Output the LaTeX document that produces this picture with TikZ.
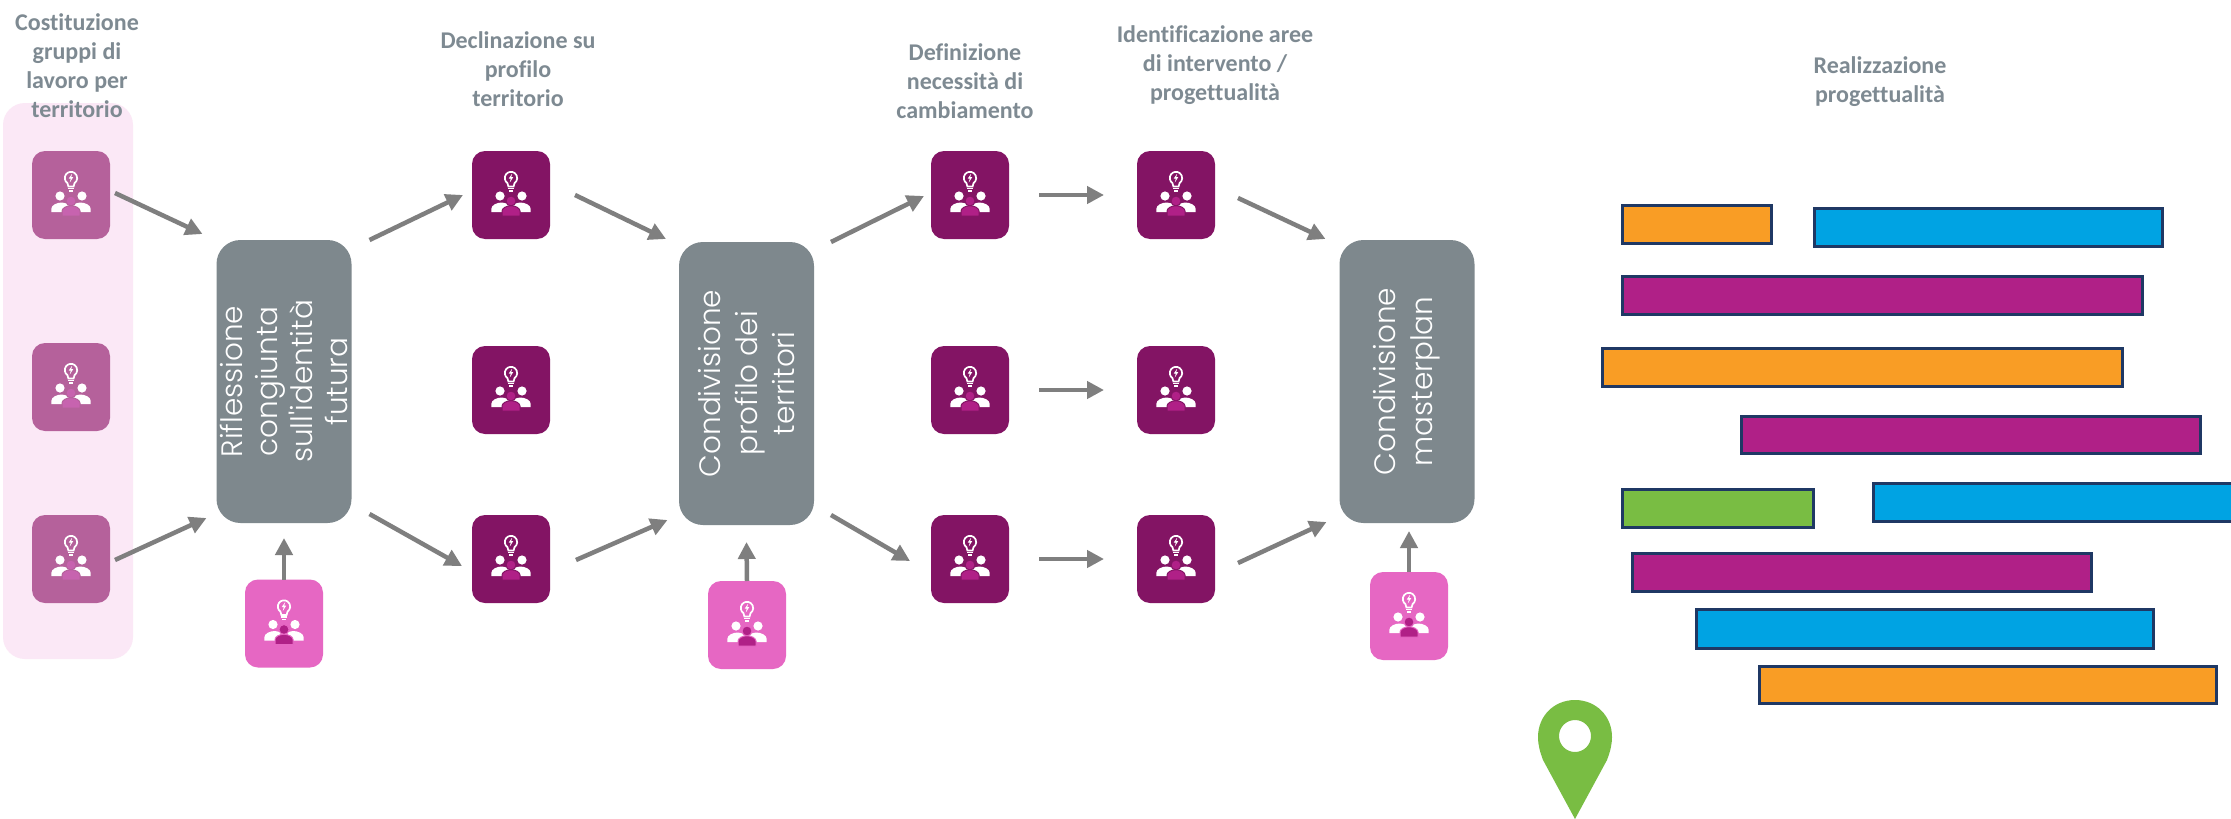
\documentclass[tikz,border=0pt]{standalone}
\usepackage{fontspec}
\setmainfont[Ligatures=NoCommon]{Carlito}
\newfontfamily\thinfont{Poppins Light}
\usetikzlibrary{calc,arrows.meta}
\definecolor{headc}{HTML}{7E8A92}
\definecolor{greyc}{HTML}{7E888D}
\definecolor{arrc}{HTML}{7F7F7F}
\definecolor{bandc}{HTML}{FBE8F6}
\definecolor{softc}{HTML}{B5619B}
\definecolor{softa}{HTML}{C763AF}
\definecolor{darkc}{HTML}{831464}
\definecolor{darka}{HTML}{B02087}
\definecolor{pinkc}{HTML}{E667C3}
\definecolor{pinka}{HTML}{B02087}
\definecolor{orangec}{HTML}{F99D25}
\definecolor{bluec}{HTML}{00A3E3}
\definecolor{purplec}{HTML}{B02087}
\definecolor{greenc}{HTML}{79BD43}
\definecolor{barline}{HTML}{1F3864}
\tikzset{
 head/.style={font=\bfseries\fontsize{24}{28.8}\selectfont,text=headc,align=center,inner sep=0,outer sep=0},
 icon/.style={minimum width=78pt,minimum height=88pt,rounded corners=13pt,inner sep=0,outer sep=0},
 softbox/.style={icon,fill=softc},
 darkbox/.style={icon,fill=darkc},
 pinkbox/.style={icon,fill=pinkc},
 greybox/.style={fill=greyc,minimum width=135pt,minimum height=283pt,rounded corners=24pt,inner sep=0,outer sep=0},
 boxtext/.style={rotate=90,text=white,font=\thinfont\fontsize{29.5}{37}\selectfont,align=center},
 arr/.style={draw=arrc,line width=4.5pt,-{Triangle[length=17pt,width=17pt]}},
 barbox/.style={draw=barline,line width=3pt},
 pics/team/.style 2 args={code={
  % bulb
  \draw[white,line width=1.7pt,fill=#1] (-2.6,-8.5) -- (-3.56,-11.9) arc[start angle=125,end angle=415,radius=6.2] -- (2.6,-8.5) -- cycle;
  \fill[white] (1.2,-21.5) -- (-2.2,-16.5) -- (-0.2,-16.5) -- (-1.2,-12.5) -- (2.2,-17.8) -- (0.2,-17.8) -- cycle;
  \fill[white] (-3,-7.1) rectangle (3,-5.9);
  \fill[white] (-2,-4.6) rectangle (2,-3.4);
  % side persons
  \fill[white] (-11,1) circle[radius=4.6];
  \fill[white] (11,1) circle[radius=4.6];
  \fill[white] (-19.7,17) -- (-19.7,14) .. controls (-19.7,10) and (-14,7.5) .. (-9,7.5) -- (-2,9) -- (-2,17) -- cycle;
  \fill[white] (19.7,17) -- (19.7,14) .. controls (19.7,10) and (14,7.5) .. (9,7.5) -- (2,9) -- (2,17) -- cycle;
  % centre person
  \draw[#1,line width=1pt,fill=#2] (0,6) circle[radius=5];
  \draw[#1,line width=1pt,fill=#2] (-9,21) -- (-9,16) .. controls (-9,13) and (-4,10.7) .. (0,10.7) .. controls (4,10.7) and (9,13) .. (9,16) -- (9,21) -- cycle;
 }}
}
\begin{document}
\begin{tikzpicture}[x=1pt,y=-1pt]
\useasboundingbox (0,0) rectangle (2231,819);
\fill[white] (0,0) rectangle (2231,819);
\node[fill=bandc,rounded corners=22pt,minimum width=130pt,minimum height=556pt,inner sep=0] (band) at (68,381) {};
% headings
\node[head] (h1) at (77,65.5) {Costituzione\\gruppi di\\lavoro per\\territorio};
\node[head] (h2) at (518,69) {Declinazione su\\profilo\\territorio};
\node[head] (h3) at (965,81) {Definizione\\necessità di\\cambiamento};
\node[head] (h4) at (1215,65) {Identificazione aree\\di intervento /\\progettualità};
\node[head] (h5) at (1880,82) {Realizzazione\\progettualità};
% grey boxes
\node[greybox] (g1) at (284,381.5) {};
\node[boxtext] (g1t) at (g1.center) {Riflessione\\[-2pt]congiunta\\[-2pt]sull'identità\\[-2pt]futura};
\node[greybox] (g2) at (746.5,383.5) {};
\node[boxtext] (g2t) at (g2.center) {Condivisione\\profilo dei\\territori};
\node[greybox] (g3) at (1407,381.5) {};
\node[boxtext] (g3t) at (g3.center) {Condivisione\\masterplan};
% icons
\foreach \n/\x/\y/\s/\a/\b in {
 a1/71/195/softbox/softc/softa,a2/71/387/softbox/softc/softa,a3/71/559/softbox/softc/softa,
 b1/511/195/darkbox/darkc/darka,b2/511/390/darkbox/darkc/darka,b3/511/559/darkbox/darkc/darka,
 c1/970/195/darkbox/darkc/darka,c2/970/390/darkbox/darkc/darka,c3/970/559/darkbox/darkc/darka,
 d1/1176/195/darkbox/darkc/darka,d2/1176/390/darkbox/darkc/darka,d3/1176/559/darkbox/darkc/darka,
 p1/284/623.5/pinkbox/pinkc/pinka,p2/747/625/pinkbox/pinkc/pinka,p3/1409/616/pinkbox/pinkc/pinka}{
 \node[\s] (\n) at (\x,\y) {};
 \pic at (\n.center) {team={\a}{\b}};
}
% arrows
\draw[arr] ([shift={(5,-2)}]a1.east) -- ([shift={(-14,-6)}]g1.north west);
\draw[arr] ([shift={(5,1)}]a3.east) -- ([shift={(-10,-5)}]g1.south west);
\draw[arr] (p1.north) -- ([shift={(0,15)}]g1.south);
\draw[arr] ([shift={(18,0)}]g1.north east) -- ([shift={(-9,0)}]b1.west);
\draw[arr] ([shift={(18,-9)}]g1.south east) -- ([shift={(-10,7)}]b3.west);
\draw[arr] ([shift={(25,0)}]b1.east) -- ([shift={(-13,-3)}]g2.north west);
\draw[arr] ([shift={(26,1)}]b3.east) -- ([shift={(-11.5,-5)}]g2.south west);
\draw[arr] (p2.north) -- ([shift={(0,17)}]g2.south);
\draw[arr] ([shift={(17,0)}]g2.north east) -- ([shift={(-7,1)}]c1.west);
\draw[arr] ([shift={(17,-10)}]g2.south east) -- ([shift={(-21,2)}]c3.west);
\draw[arr] ([shift={(30,0)}]c1.east) -- ([shift={(-33,0)}]d1.west);
\draw[arr] ([shift={(30,0)}]c2.east) -- ([shift={(-33,0)}]d2.west);
\draw[arr] ([shift={(30,0)}]c3.east) -- ([shift={(-33,0)}]d3.west);
\draw[arr] ([shift={(23,3)}]d1.east) -- ([shift={(-14,-1)}]g3.north west);
\draw[arr] ([shift={(23,4)}]d3.east) -- ([shift={(-13,-1)}]g3.south west);
\draw[arr] (p3.north) -- ([shift={(2,8)}]g3.south);
% bars
\foreach \xa/\ya/\xb/\yb/\c in {
 1622/205/1771/243/orangec, 1814/208/2162/246/bluec,
 1622/276/2142/314/purplec, 1602/348/2122/386/orangec,
 1741/416/2200/453/purplec, 1622/489/1813/527/greenc,
 1873/483/2232/521/bluec, 1632/553/2091/591/purplec,
 1696/609/2153/648/bluec, 1759/666/2216/703/orangec}{
 \draw[barbox,fill=\c] (\xa,\ya) rectangle (\xb,\yb);
}
% pin
\fill[greenc,even odd rule] (1575,819) -- (1543,760) .. controls (1540,752) and (1538,745) .. (1538,737) .. controls (1538,716) and (1554,700) .. (1575,700) .. controls (1596,700) and (1612,716) .. (1612,737) .. controls (1612,745) and (1610,752) .. (1607,760) -- cycle (1575,736) circle[radius=16];
\end{tikzpicture}
\end{document}
